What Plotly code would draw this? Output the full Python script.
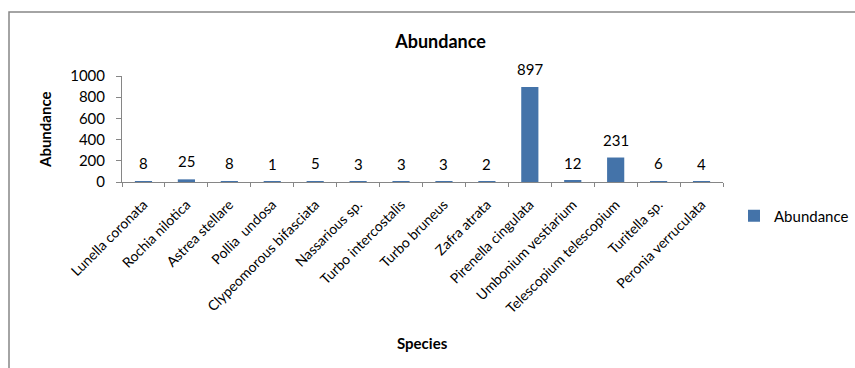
import plotly.graph_objects as go

species = [
    "Lunella coronata", "Rochia nilotica", "Astrea stellare", "Pollia  undosa",
    "Clypeomorous bifasciata", "Nassarious sp.", "Turbo intercostalis",
    "Turbo bruneus", "Zafra atrata", "Pirenella cingulata",
    "Umbonium vestiarium", "Telescopium telescopium", "Turitella sp.",
    "Peronia verruculata",
]
abundance = [8, 25, 8, 1, 5, 3, 3, 3, 2, 897, 12, 231, 6, 4]
y_ticks = [0, 200, 400, 600, 800, 1000]

FONT = "Lato"
AXIS_GREY = "#868686"
BAR_BLUE = "#4473A9"

fig = go.Figure(
    go.Bar(
        x=species,
        y=abundance,
        name="Abundance",
        marker=dict(color=BAR_BLUE, line=dict(width=0)),
        width=0.4,
        showlegend=True,
    )
)

# value labels just above each bar
value_labels = [
    dict(
        x=s, y=v, xref="x", yref="y", text=str(v),
        xanchor="center", yanchor="bottom", yshift=7,
        showarrow=False, font=dict(family=FONT, size=15, color="#000000"),
    )
    for s, v in zip(species, abundance)
]

fig.update_layout(
    width=855,
    height=368,
    margin=dict(l=122, r=132, t=76, b=186, autoexpand=False),
    paper_bgcolor="white",
    plot_bgcolor="white",
    font=dict(family=FONT, color="#000000"),
    title=dict(
        text="<b>Abundance</b>",
        font=dict(family=FONT, size=18, color="#000000"),
        x=0.53, xref="paper", xanchor="center",
        y=1 - 42 / 368, yref="container", yanchor="middle",
    ),
    bargap=0.6,
    legend=dict(
        x=(734 - 122) / 601, xanchor="left",
        y=-0.32, yanchor="middle",
        font=dict(family=FONT, size=15, color="#000000"),
        bgcolor="rgba(0,0,0,0)",
        itemwidth=30,
    ),
    xaxis=dict(
        type="category",
        tickangle=-45,
        tickfont=dict(family=FONT, size=14, color="#000000"),
        ticklabelstandoff=8,
        showline=True, linecolor=AXIS_GREY, linewidth=1,
        ticks="outside", tickson="boundaries", ticklen=4,
        tickcolor=AXIS_GREY, showgrid=False, zeroline=False,
    ),
    yaxis=dict(
        range=[0, 1000],
        tickvals=y_ticks,
        tickfont=dict(family=FONT, size=15, color="#000000"),
        ticklabelstandoff=8,
        showline=True, linecolor=AXIS_GREY, linewidth=1,
        ticks="outside", ticklen=5, tickcolor=AXIS_GREY,
        showgrid=False, zeroline=False,
    ),
    annotations=value_labels + [
        dict(
            text="<b>Abundance</b>", textangle=-90,
            x=(45 - 122) / 601, y=(182 - 130) / 106,
            xref="paper", yref="paper", xanchor="center", yanchor="middle",
            showarrow=False, font=dict(family=FONT, size=15, color="#000000"),
        ),
        dict(
            text="<b>Species</b>",
            x=(422 - 122) / 601, y=(182 - 343) / 106,
            xref="paper", yref="paper", xanchor="center", yanchor="middle",
            showarrow=False, font=dict(family=FONT, size=15, color="#000000"),
        ),
    ],
    shapes=[
        # chart frame
        dict(
            type="rect", xref="paper", yref="paper",
            x0=(9 - 122) / 601, x1=(870 - 122) / 601,
            y0=(182 - 380) / 106, y1=(182 - 12) / 106,
            line=dict(color=AXIS_GREY, width=1.5),
            fillcolor="rgba(0,0,0,0)", layer="below",
        ),
    ],
)

fig.write_html("out.html")
